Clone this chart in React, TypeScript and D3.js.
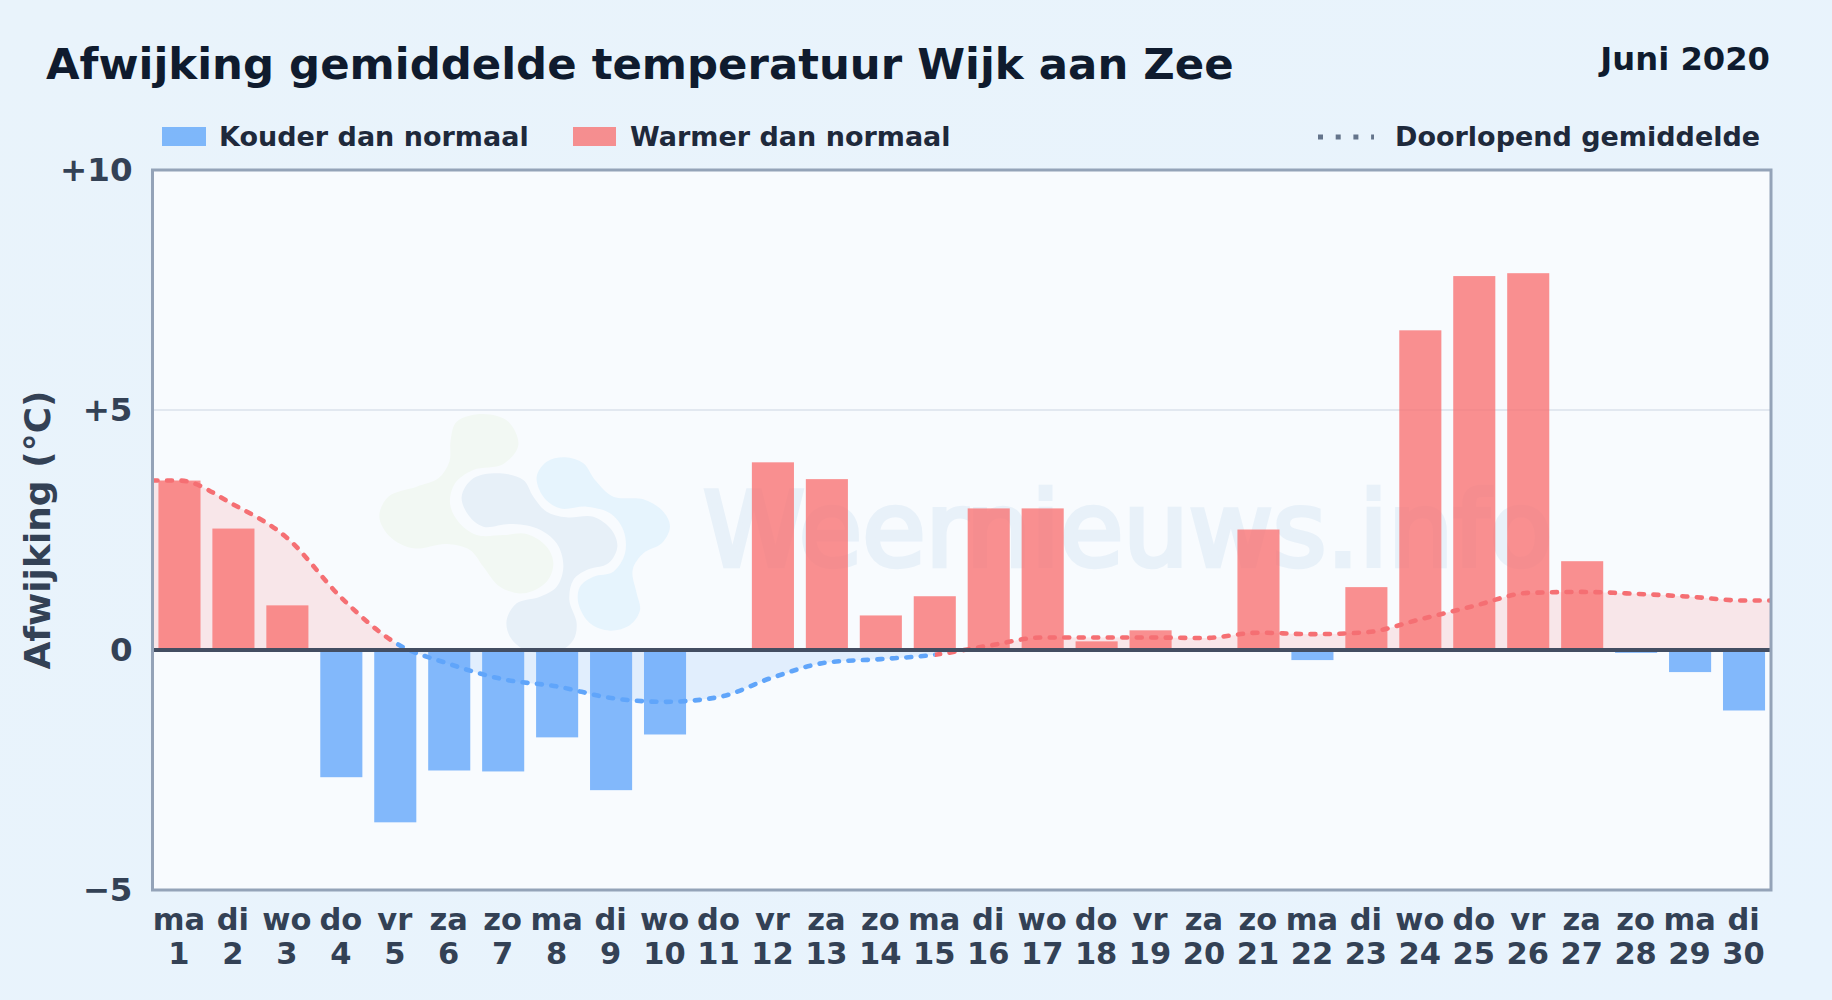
import React, { useEffect, useRef } from "react";
import * as d3 from "d3";

const weekdays = [
  "ma", "di", "wo", "do", "vr", "za", "zo", "ma", "di", "wo",
  "do", "vr", "za", "zo", "ma", "di", "wo", "do", "vr", "za",
  "zo", "ma", "di", "wo", "do", "vr", "za", "zo", "ma", "di",
];
const days = d3.range(1, 31);

// afwijking per dag (graden)
const deviation = [
  3.53, 2.53, 0.93, -2.65, -3.59, -2.51, -2.53, -1.82, -2.92, -1.76,
  0, 3.91, 3.56, 0.72, 1.12, 2.95, 2.95, 0.18, 0.41, 0,
  2.51, -0.21, 1.31, 6.66, 7.79, 7.85, 1.85, -0.06, -0.46, -1.26,
];

const runningAvg = [
  3.53, 3.03, 2.33, 1.09, 0.15, -0.29, -0.61, -0.76, -1.0, -1.08,
  -0.98, -0.57, -0.26, -0.19, -0.1, 0.09, 0.26, 0.26, 0.26, 0.25,
  0.36, 0.33, 0.37, 0.64, 0.92, 1.19, 1.21, 1.17, 1.11, 1.03,
];

const yTicks = [-5, 0, 5, 10];
const yTickLabels = ["−5", "0", "+5", "+10"];

const logoGreen = [
  [370, 72], [445, 95], [475, 165], [430, 222], [340, 240], [285, 280], [270, 340], [295, 395],
  [350, 435], [430, 435], [500, 432], [560, 470], [580, 520], [560, 575], [490, 610], [420, 590],
  [370, 530], [330, 480], [260, 462], [160, 475], [90, 440], [58, 380], [85, 320], [170, 290],
  [235, 265], [268, 215], [272, 150], [290, 95],
];
const logoNavy = [
  [420, 250], [490, 270], [520, 320], [560, 365], [620, 382], [700, 380], [755, 420], [772, 470],
  [745, 520], [680, 540], [640, 570], [628, 630], [650, 700], [640, 750], [600, 782], [500, 782],
  [450, 740], [440, 690], [470, 640], [540, 620], [590, 590], [610, 530], [590, 460], [530, 415],
  [450, 402], [370, 410], [325, 375], [305, 320], [340, 265],
];
const logoBlue = [
  [615, 202], [670, 220], [705, 270], [760, 320], [850, 328], [910, 365], [930, 410], [905, 460],
  [850, 490], [818, 540], [830, 610], [840, 660], [810, 705], [750, 722], [690, 700], [655, 640],
  [660, 590], [700, 560], [760, 545], [795, 490], [790, 420], [750, 370], [680, 350], [600, 355],
  [550, 320], [530, 260], [560, 215],
];

const FONT = "'DejaVu Sans', sans-serif";
const WIDTH = 1832;
const HEIGHT = 1000;
const margin = { top: 170, right: 61, bottom: 110, left: 152.5 };
const COLD = "#60a5fa";
const WARM = "#f87171";

const App: React.FC = () => {
  const svgRef = useRef<SVGSVGElement>(null);

  useEffect(() => {
    if (!svgRef.current) return;
    const svg = d3.select(svgRef.current);
    svg.selectAll("*").remove();

    const right = WIDTH - margin.right;
    const bottom = HEIGHT - margin.bottom;

    const x = d3
      .scaleBand<number>()
      .domain(days)
      .range([margin.left, right])
      .paddingInner(0.22)
      .paddingOuter(0.11);
    const y = d3.scaleLinear().domain([-5, 10]).range([bottom, margin.top]);
    const center = (day: number) => x(day)! + x.bandwidth() / 2;

    const defs = svg.append("defs");
    const bg = defs
      .append("linearGradient")
      .attr("id", "pageBg")
      .attr("x1", 0)
      .attr("y1", 0)
      .attr("x2", 1)
      .attr("y2", 1);
    bg.append("stop").attr("offset", "0%").attr("stop-color", "#e9f3fb");
    bg.append("stop").attr("offset", "100%").attr("stop-color", "#e8f3fd");

    defs
      .append("clipPath")
      .attr("id", "aboveZero")
      .append("rect")
      .attr("x", margin.left)
      .attr("y", margin.top)
      .attr("width", right - margin.left)
      .attr("height", y(0) - margin.top);
    defs
      .append("clipPath")
      .attr("id", "belowZero")
      .append("rect")
      .attr("x", margin.left)
      .attr("y", y(0))
      .attr("width", right - margin.left)
      .attr("height", bottom - y(0));

    // kleur van de lijn wisselt per dag-segment
    const warmClip = defs.append("clipPath").attr("id", "warmLine");
    const coldClip = defs.append("clipPath").attr("id", "coldLine");
    const addSpan = (clip: typeof warmClip, x0: number, x1: number) =>
      clip
        .append("rect")
        .attr("x", x0)
        .attr("y", margin.top)
        .attr("width", x1 - x0)
        .attr("height", bottom - margin.top);
    addSpan(warmClip, margin.left, center(1));
    addSpan(warmClip, center(30), right);
    d3.pairs(days).forEach(([a, b]) => {
      addSpan(runningAvg[b - 1] >= 0 ? warmClip : coldClip, center(a), center(b));
    });

    svg.append("rect").attr("width", WIDTH).attr("height", HEIGHT).attr("fill", "url(#pageBg)");
    svg
      .append("rect")
      .attr("x", margin.left)
      .attr("y", margin.top)
      .attr("width", right - margin.left)
      .attr("height", bottom - margin.top)
      .attr("fill", "#f8fbfe");

    // Grid line
    svg
      .append("line")
      .attr("x1", margin.left)
      .attr("x2", right)
      .attr("y1", y(5))
      .attr("y2", y(5))
      .attr("stroke", "#e2e8f0")
      .attr("stroke-width", 2);

    // Watermark
    const blob = d3
      .line<number[]>()
      .x((p) => 360 + p[0] / 3)
      .y((p) => 390 + p[1] / 3)
      .curve(d3.curveCatmullRomClosed);
    const logo = svg.append("g");
    logo.append("path").attr("d", blob(logoGreen)).attr("fill", "#f2f8f3");
    logo.append("path").attr("d", blob(logoNavy)).attr("fill", "#e7f0f8");
    logo.append("path").attr("d", blob(logoBlue)).attr("fill", "#e6f4fd");
    svg
      .append("text")
      .attr("x", 703)
      .attr("y", 566)
      .attr("font-family", FONT)
      .attr("font-size", 103)
      .attr("fill", "#e8f1f9")
      .attr("stroke", "#e8f1f9")
      .attr("stroke-width", 4.5)
      .text("Weernieuws.info");

    // Area under running mean
    const linePoints: [number, number][] = [
      [margin.left, runningAvg[0]],
      ...days.map((d, i): [number, number] => [center(d), runningAvg[i]]),
      [right, runningAvg[runningAvg.length - 1]],
    ];
    const area = d3
      .area<[number, number]>()
      .x((p) => p[0])
      .y0(y(0))
      .y1((p) => y(p[1]))
      .curve(d3.curveMonotoneX);
    svg
      .append("path")
      .attr("d", area(linePoints))
      .attr("fill", WARM)
      .attr("fill-opacity", 0.15)
      .attr("clip-path", "url(#aboveZero)");
    svg
      .append("path")
      .attr("d", area(linePoints))
      .attr("fill", COLD)
      .attr("fill-opacity", 0.15)
      .attr("clip-path", "url(#belowZero)");

    // Bars
    svg
      .append("g")
      .selectAll("rect")
      .data(days)
      .enter()
      .append("rect")
      .attr("x", (d) => x(d)!)
      .attr("width", x.bandwidth())
      .attr("y", (d) => y(Math.max(0, deviation[d - 1])))
      .attr("height", (d) => Math.abs(y(deviation[d - 1]) - y(0)))
      .attr("fill", (d) => (deviation[d - 1] >= 0 ? WARM : COLD))
      .attr("fill-opacity", 0.78);

    // Running mean
    const line = d3
      .line<[number, number]>()
      .x((p) => p[0])
      .y((p) => y(p[1]))
      .curve(d3.curveMonotoneX);
    [
      { id: "warmLine", color: "#f56f73" },
      { id: "coldLine", color: COLD },
    ].forEach(({ id, color }) => {
      svg
        .append("g")
        .attr("clip-path", `url(#${id})`)
        .append("path")
        .attr("d", line(linePoints))
        .attr("fill", "none")
        .attr("stroke", color)
        .attr("stroke-width", 4.6)
        .attr("stroke-linecap", "round")
        .attr("stroke-dasharray", "5 9.5");
    });

    // Zero line
    svg
      .append("line")
      .attr("x1", margin.left)
      .attr("x2", right)
      .attr("y1", y(0))
      .attr("y2", y(0))
      .attr("stroke", "#434e62")
      .attr("stroke-width", 3.8);

    // Frame
    svg
      .append("rect")
      .attr("x", margin.left)
      .attr("y", margin.top)
      .attr("width", right - margin.left)
      .attr("height", bottom - margin.top)
      .attr("fill", "none")
      .attr("stroke", "#94a3b8")
      .attr("stroke-width", 3);

    // Y axis
    const yAxis = svg
      .append("g")
      .attr("transform", `translate(${margin.left - 20},0)`)
      .call(
        d3
          .axisLeft(y)
          .tickValues(yTicks)
          .tickSize(0)
          .tickPadding(0)
          .tickFormat((_, i) => yTickLabels[i])
      );
    yAxis.select(".domain").remove();
    yAxis
      .selectAll("text")
      .attr("font-family", FONT)
      .attr("font-size", 32.5)
      .attr("font-weight", "bold")
      .attr("fill", "#334155");

    // X axis, two rows per day
    const dayLabels = svg
      .append("g")
      .selectAll("text")
      .data(days)
      .enter()
      .append("text")
      .attr("text-anchor", "middle")
      .attr("font-family", FONT)
      .attr("font-size", 30.5)
      .attr("font-weight", "bold")
      .attr("fill", "#334155");
    dayLabels
      .append("tspan")
      .attr("x", (d) => center(d) - 0.5)
      .attr("y", 930)
      .text((d) => weekdays[d - 1]);
    dayLabels
      .append("tspan")
      .attr("x", (d) => center(d) - 0.5)
      .attr("y", 964)
      .text((d) => d);

    // Y axis label
    svg
      .append("text")
      .attr("transform", "rotate(-90)")
      .attr("x", -530)
      .attr("y", 50)
      .attr("text-anchor", "middle")
      .attr("font-family", FONT)
      .attr("font-size", 36)
      .attr("font-weight", "bold")
      .attr("fill", "#334155")
      .text("Afwijking (°C)");

    // Titles
    svg
      .append("text")
      .attr("x", 46)
      .attr("y", 79)
      .attr("font-family", FONT)
      .attr("font-size", 43.4)
      .attr("font-weight", "bold")
      .attr("fill", "#0f1b2e")
      .text("Afwijking gemiddelde temperatuur Wijk aan Zee");
    svg
      .append("text")
      .attr("x", 1770)
      .attr("y", 70)
      .attr("text-anchor", "end")
      .attr("font-family", FONT)
      .attr("font-size", 32.2)
      .attr("font-weight", "bold")
      .attr("fill", "#0f1b2e")
      .text("Juni 2020");

    // Legend
    const legendText = (xPos: number, label: string) =>
      svg
        .append("text")
        .attr("x", xPos)
        .attr("y", 146)
        .attr("font-family", FONT)
        .attr("font-size", 27)
        .attr("font-weight", "bold")
        .attr("fill", "#1e293b")
        .text(label);
    svg.append("rect").attr("x", 162).attr("y", 127).attr("width", 44).attr("height", 19).attr("fill", COLD).attr("fill-opacity", 0.78);
    legendText(219, "Kouder dan normaal");
    svg.append("rect").attr("x", 573).attr("y", 127).attr("width", 43).attr("height", 19).attr("fill", WARM).attr("fill-opacity", 0.78);
    legendText(630, "Warmer dan normaal");
    svg
      .append("line")
      .attr("x1", 1318)
      .attr("x2", 1374)
      .attr("y1", 137)
      .attr("y2", 137)
      .attr("stroke", "#64748b")
      .attr("stroke-width", 5)
      .attr("stroke-dasharray", "5 12.7");
    legendText(1395, "Doorlopend gemiddelde");
  }, []);

  return (
    <svg
      ref={svgRef}
      width={WIDTH}
      height={HEIGHT}
      style={{ position: "absolute", left: 0, top: 0, display: "block" }}
    />
  );
};

export default App;
